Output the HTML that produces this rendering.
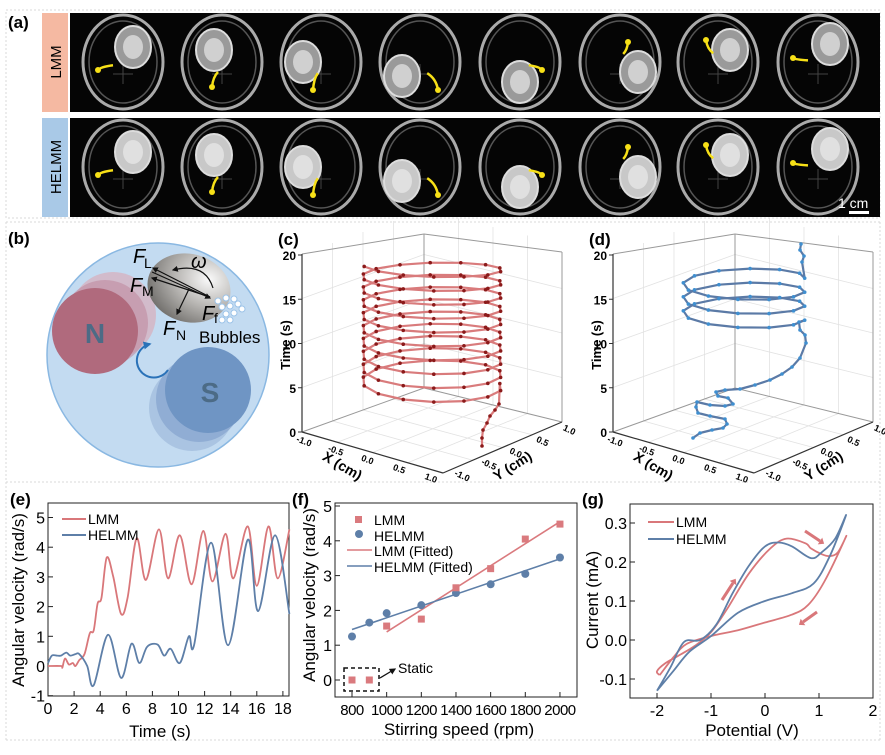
<!DOCTYPE html>
<html><head><meta charset="utf-8"><style>
html,body{margin:0;padding:0;background:#fff}
svg{display:block;font-family:"Liberation Sans",Arial,sans-serif}
</style></head><body>
<svg id="s" width="885" height="755" viewBox="0 0 885 755" xmlns="http://www.w3.org/2000/svg">
<rect width="885" height="755" fill="#fff"/>
<g stroke="#d8d8d8" stroke-dasharray="2,2" fill="none" stroke-width="1">
<rect x="6" y="10" width="874" height="208"/>
<line x1="6" y1="222" x2="880" y2="222"/>
<line x1="6" y1="482" x2="880" y2="482"/>
<line x1="6" y1="740" x2="880" y2="740"/>
<line x1="6" y1="222" x2="6" y2="740"/>
<line x1="880" y1="222" x2="880" y2="740"/>
</g>
<text x="8" y="28" font-size="17" font-weight="bold">(a)</text>
<rect x="42" y="13" width="26" height="99" fill="#f5b9a2"/>
<rect x="42" y="118" width="26" height="99" fill="#a9c9e7"/>
<text transform="translate(61,62) rotate(-90)" text-anchor="middle" font-size="15">LMM</text>
<text transform="translate(61,167) rotate(-90)" text-anchor="middle" font-size="15">HELMM</text>
<rect x="70" y="13" width="810" height="99" fill="#050505"/>
<rect x="70" y="118" width="810" height="99" fill="#050505"/>
<g id="dishes"></g>
<text x="838" y="208" fill="#fff" font-size="14">1 cm</text>
<rect x="849" y="211" width="20" height="3" fill="#fff"/>

<text x="8" y="244" font-size="17" font-weight="bold">(b)</text>
<ellipse cx="158" cy="355" rx="111" ry="112" fill="#c3dbf1" stroke="#8ab8e2" stroke-width="1.5"/>
<circle cx="113" cy="315" r="43" fill="#d6b3c2" opacity="0.8"/>
<circle cx="105" cy="323" r="43" fill="#c08aa0" opacity="0.6"/>
<circle cx="95" cy="331" r="43" fill="#b06a7d"/>
<circle cx="192" cy="408" r="43" fill="#9fbbdc" opacity="0.7"/>
<circle cx="199" cy="399" r="43" fill="#84a4cf" opacity="0.7"/>
<circle cx="208" cy="390" r="43" fill="#6f95c4"/>
<text x="95" y="343" text-anchor="middle" font-size="28" font-weight="bold" fill="#4c6b86">N</text>
<text x="210" y="402" text-anchor="middle" font-size="28" font-weight="bold" fill="#4c6b86">S</text>
<defs><radialGradient id="sp" cx="0.7" cy="0.3" r="0.8"><stop offset="0" stop-color="#fafafa"/><stop offset="0.5" stop-color="#b8b6b3"/><stop offset="1" stop-color="#6f6d6a"/></radialGradient>
<marker id="ah" viewBox="0 0 10 10" refX="8" refY="5" markerWidth="5" markerHeight="5" orient="auto"><path d="M0,0L10,5L0,10z" fill="#111"/></marker>
<marker id="bh" viewBox="0 0 10 10" refX="8" refY="5" markerWidth="4" markerHeight="4" orient="auto"><path d="M0,0L10,5L0,10z" fill="#2a72b8"/></marker></defs>
<ellipse cx="189" cy="288" rx="42" ry="34" transform="rotate(15 189 288)" fill="url(#sp)"/>
<g fill="#fff" stroke="#9cc3e8" stroke-width="1">
<circle cx="218" cy="301" r="3"/><circle cx="226" cy="298" r="3"/><circle cx="234" cy="299" r="3"/><circle cx="222" cy="307" r="3"/><circle cx="230" cy="306" r="3"/><circle cx="238" cy="304" r="3"/><circle cx="226" cy="314" r="3"/><circle cx="234" cy="313" r="3"/><circle cx="242" cy="309" r="3"/><circle cx="222" cy="320" r="3"/><circle cx="230" cy="320" r="3"/>
</g>
<g stroke="#111" stroke-width="1.2" fill="none" marker-end="url(#ah)">
<line x1="210" y1="297" x2="153" y2="268"/>
<line x1="210" y1="297" x2="152" y2="278"/>
<line x1="152" y1="272" x2="210" y2="298"/>
<line x1="189" y1="289" x2="177" y2="314"/>
<path d="M213,288 Q205,262 173,270"/>
</g>
<path d="M168,370 A17,17 0 1 1 150,344" fill="none" stroke="#2a72b8" stroke-width="2" marker-end="url(#bh)"/>
<g font-size="20" font-style="italic"><text x="133" y="263">F</text><text x="130" y="292">F</text><text x="202" y="320">F</text><text x="163" y="335">F</text><text x="191" y="268">ω</text></g>
<g font-size="14"><text x="144" y="268">L</text><text x="142" y="296">M</text><text x="214" y="323">f</text><text x="176" y="340">N</text></g>
<text x="199" y="343" font-size="17">Bubbles</text>

<text x="278" y="245" font-size="17" font-weight="bold">(c)</text>
<text x="589" y="245" font-size="17" font-weight="bold">(d)</text>
<g id="c3d"></g>
<g id="d3d"></g>

<text x="10" y="505" font-size="17" font-weight="bold">(e)</text>
<rect x="48" y="503" width="241" height="193" fill="none" stroke="#222" stroke-width="1"/>
<g id="ee"></g>
<text x="160" y="737" text-anchor="middle" font-size="17">Time (s)</text>
<text transform="translate(24,600) rotate(-90)" text-anchor="middle" font-size="17">Angular velocity (rad/s)</text>
<line x1="62" y1="519" x2="86" y2="519" stroke="#d9777a" stroke-width="2"/><text x="88" y="524" font-size="14">LMM</text>
<line x1="62" y1="535" x2="86" y2="535" stroke="#5e7fa8" stroke-width="2"/><text x="88" y="540" font-size="14">HELMM</text>

<text x="292" y="505" font-size="17" font-weight="bold">(f)</text>
<rect x="335" y="503" width="242" height="194" fill="none" stroke="#222" stroke-width="1"/>
<g id="ff"></g>
<text x="459" y="735" text-anchor="middle" font-size="17">Stirring speed (rpm)</text>
<text transform="translate(315,595) rotate(-90)" text-anchor="middle" font-size="17">Angular velocity (rad/s)</text>
<rect x="355" y="516" width="7" height="7" fill="#da7a7e"/><text x="374" y="525" font-size="14">LMM</text>
<circle cx="359" cy="534" r="4" fill="#5e7fa8"/><text x="374" y="541" font-size="14">HELMM</text>
<line x1="347" y1="550" x2="372" y2="550" stroke="#da7a7e" stroke-width="1.6"/><text x="374" y="556" font-size="14">LMM (Fitted)</text>
<line x1="347" y1="566" x2="372" y2="566" stroke="#5e7fa8" stroke-width="1.6"/><text x="374" y="572" font-size="14">HELMM (Fitted)</text>
<rect x="344" y="668" width="35" height="23" fill="none" stroke="#111" stroke-width="1.5" stroke-dasharray="4,3"/>
<path d="M380,678 L395,669" stroke="#111" stroke-width="1.3" marker-end="url(#ah)"/>
<text x="398" y="673" font-size="14">Static</text>

<text x="582" y="505" font-size="17" font-weight="bold">(g)</text>
<rect x="630" y="504" width="243" height="194" fill="none" stroke="#222" stroke-width="1"/>
<g id="gg"></g>
<text x="752" y="736" text-anchor="middle" font-size="17">Potential (V)</text>
<text transform="translate(598,600) rotate(-90)" text-anchor="middle" font-size="17">Current (mA)</text>
<line x1="648" y1="522" x2="674" y2="522" stroke="#d9777a" stroke-width="2"/><text x="676" y="527" font-size="14">LMM</text>
<line x1="648" y1="539" x2="674" y2="539" stroke="#5e7fa8" stroke-width="2"/><text x="676" y="544" font-size="14">HELMM</text>
</svg>
<script>
var NS="http://www.w3.org/2000/svg";
function el(p,t,a,txt){var e=document.createElementNS(NS,t);for(var k in a)e.setAttribute(k,a[k]);if(txt!==undefined)e.textContent=txt;p.appendChild(e);return e;}
function cr(pts){var d="M"+pts[0][0].toFixed(1)+","+pts[0][1].toFixed(1);for(var i=0;i<pts.length-1;i++){var p0=pts[i-1]||pts[i],p1=pts[i],p2=pts[i+1],p3=pts[i+2]||p2;
var c1=[p1[0]+(p2[0]-p0[0])/6,p1[1]+(p2[1]-p0[1])/6],c2=[p2[0]-(p3[0]-p1[0])/6,p2[1]-(p3[1]-p1[1])/6];
d+="C"+c1[0].toFixed(1)+","+c1[1].toFixed(1)+" "+c2[0].toFixed(1)+","+c2[1].toFixed(1)+" "+p2[0].toFixed(1)+","+p2[1].toFixed(1);}return d;}
var g=document.getElementById("dishes");
var cx=[123,222,321,420,520,620,718,818];
var pos=[[10,-15],[-8,-12],[-18,0],[-18,14],[0,20],[18,10],[12,-12],[12,-18]];
var arr=[[-25,8],[-10,25],[-8,28],[18,28],[22,8],[8,-20],[-12,-22],[-25,-4]];
[62,167].forEach(function(cy,r){cx.forEach(function(x,i){
el(g,"ellipse",{cx:x,cy:cy,rx:40,ry:47,fill:"none",stroke:"#aaa","stroke-width":3});
el(g,"ellipse",{cx:x,cy:cy,rx:34,ry:41,fill:"none",stroke:"#555","stroke-width":1.5});
el(g,"path",{d:"M"+(x-10)+","+(cy+12)+"h20M"+x+","+(cy+2)+"v20",stroke:"#444","stroke-width":1});
var px=x+pos[i][0],py=cy+pos[i][1];
el(g,"ellipse",{cx:px,cy:py,rx:18,ry:21,fill:r?"#c8c8c8":"#9a9a9a",stroke:"#ddd","stroke-width":2});
el(g,"ellipse",{cx:px,cy:py,rx:10,ry:12,fill:r?"#e0e0e0":"#d0d0d0"});
el(g,"path",{d:"M"+(x+arr[i][0]*0.4)+","+(cy+arr[i][1]*0.4)+" Q"+(x+arr[i][0]*0.9)+","+(cy+arr[i][1]*0.6)+" "+(x+arr[i][0])+","+(cy+arr[i][1]),stroke:"#f7e017","stroke-width":2.5,fill:"none"});
el(g,"circle",{cx:x+arr[i][0],cy:cy+arr[i][1],r:3,fill:"#f7e017"});
});});
function frame(gid,dx,col,dotc,build){var G=document.getElementById(gid);
var L=[302+dx,432],F=[443+dx,473],R=[562+dx,422],B=[424+dx,388],H=178;
var gr={stroke:"#e2e2e2","stroke-width":0.8,fill:"none"};
for(var i=1;i<4;i++){var t=i/4;
el(G,"line",Object.assign({x1:L[0],y1:L[1]-H*t,x2:B[0],y2:B[1]-H*t},gr));
el(G,"line",Object.assign({x1:B[0],y1:B[1]-H*t,x2:R[0],y2:R[1]-H*t},gr));
el(G,"line",Object.assign({x1:L[0]+(B[0]-L[0])*t,y1:L[1]+(B[1]-L[1])*t,x2:L[0]+(B[0]-L[0])*t,y2:L[1]+(B[1]-L[1])*t-H},gr));
el(G,"line",Object.assign({x1:B[0]+(R[0]-B[0])*t,y1:B[1]+(R[1]-B[1])*t,x2:B[0]+(R[0]-B[0])*t,y2:B[1]+(R[1]-B[1])*t-H},gr));
el(G,"line",Object.assign({x1:L[0]+(F[0]-L[0])*t,y1:L[1]+(F[1]-L[1])*t,x2:B[0]+(R[0]-B[0])*t,y2:B[1]+(R[1]-B[1])*t},gr));
el(G,"line",Object.assign({x1:L[0]+(B[0]-L[0])*t,y1:L[1]+(B[1]-L[1])*t,x2:F[0]+(R[0]-F[0])*t,y2:F[1]+(R[1]-F[1])*t},gr));}
var ax={stroke:"#999","stroke-width":1};
el(G,"line",Object.assign({x1:B[0],y1:B[1],x2:B[0],y2:B[1]-154},ax));
el(G,"line",Object.assign({x1:R[0],y1:R[1],x2:R[0],y2:R[1]-170},ax));
el(G,"line",Object.assign({x1:L[0],y1:L[1]-H,x2:B[0],y2:B[1]-154},ax));
el(G,"line",Object.assign({x1:B[0],y1:B[1]-154,x2:R[0],y2:R[1]-170},ax));
el(G,"line",Object.assign({x1:L[0],y1:L[1],x2:B[0],y2:B[1]},ax));
el(G,"line",Object.assign({x1:B[0],y1:B[1],x2:R[0],y2:R[1]},ax));
var k={stroke:"#333","stroke-width":1.2};
el(G,"line",Object.assign({x1:L[0],y1:L[1],x2:L[0],y2:L[1]-H},k));
el(G,"line",Object.assign({x1:L[0],y1:L[1],x2:F[0],y2:F[1]},k));
el(G,"line",Object.assign({x1:F[0],y1:F[1],x2:R[0],y2:R[1]},k));
for(var v=0;v<=20;v+=5){var y=432-v*8.85;el(G,"line",{x1:L[0]-4,y1:y,x2:L[0],y2:y,stroke:"#333"});
el(G,"text",{x:L[0]-6,y:y+5,"text-anchor":"end","font-size":12,"font-weight":"bold"},""+v);}
var xl=["-1.0","-0.5","0.0","0.5","1.0"];
for(i=0;i<5;i++){var t=0.05+i*0.225;var px=L[0]+(F[0]-L[0])*t,py=L[1]+(F[1]-L[1])*t;
el(G,"text",{transform:"translate("+(px-6)+","+(py+10)+") rotate(20)","font-size":9,"font-weight":"bold","text-anchor":"middle"},xl[i]);
var qx=F[0]+(R[0]-F[0])*t,qy=F[1]+(R[1]-F[1])*t;
el(G,"text",{transform:"translate("+(qx+12)+","+(qy+8)+") rotate(25)","font-size":9,"font-weight":"bold","text-anchor":"middle"},xl[i]);}
el(G,"text",{transform:"translate("+(L[0]-12)+",345) rotate(-90)","text-anchor":"middle","font-size":13,"font-weight":"bold"},"Time (s)");
el(G,"text",{transform:"translate("+(L[0]+38)+",470) rotate(30)","text-anchor":"middle","font-size":14,"font-weight":"bold"},"X (cm)");
el(G,"text",{transform:"translate("+(F[0]+72)+",470) rotate(-32)","text-anchor":"middle","font-size":14,"font-weight":"bold"},"Y (cm)");
var pts=build();var d="M"+pts.map(function(p){return p[0].toFixed(1)+","+p[1].toFixed(1)}).join("L");
el(G,"path",{d:d,fill:"none",stroke:col,"stroke-width":2.2,"stroke-linejoin":"round"});
pts.forEach(function(p){el(G,"circle",{cx:p[0],cy:p[1],r:1.8,fill:dotc});});}
frame("c3d",0,"#d97b7c","#8b1a1a",function(){var p=[[482,446],[482,438],[483,430],[487,423],[490,416],[495,410],[499,404]];
var N=9.5,steps=Math.round(N*14);for(var i=0;i<=steps;i++){var th=i/14*2*Math.PI,f=i/steps;
var cy=388-124*f,ry=18-8*f;p.push([432+70*Math.cos(th-0.25),cy+ry*Math.sin(th-0.25)]);}return p;});
frame("d3d",311,"#5b7aa6","#3f8fd0",function(){var p=[[693,438],[700,433],[712,430],[723,428],[727,424],[725,419],[710,416],[698,413],[696,407],[697,402],[710,405],[725,406],[733,404],[728,398],[718,396],[716,392],[725,390],[740,389],[755,385],[770,380],[782,374],[792,367],[800,358],[806,343],[805,335],[800,330],[799,322]];
var steps=36;for(var i=0;i<=steps;i++){var th=i/12*2*Math.PI,f=i/steps;p.push([744+61*Math.cos(th+0.1),319-42*f+12*Math.sin(th+0.1)]);}
p.push([802,262],[804,256],[800,250],[801,244]);return p;});
var E=document.getElementById("ee");
function ex(t){return 48+13.05*t}function ey(v){return 666-29.7*v}
for(var t=0;t<=18;t+=2){el(E,"line",{x1:ex(t),y1:696,x2:ex(t),y2:691,stroke:"#222"});el(E,"text",{x:ex(t),y:714,"text-anchor":"middle","font-size":16},""+t);}
for(var v=-1;v<=5;v++){el(E,"line",{x1:48,y1:ey(v),x2:53,y2:ey(v),stroke:"#222"});el(E,"text",{x:45,y:ey(v)+6,"text-anchor":"end","font-size":16},""+v);}
var red=[[0,0],[1,0],[1.1,-0.05],[1.3,0.25],[1.6,0.05],[1.9,0.1],[2.1,0],[2.4,0.2],[2.8,0.4],[3.2,1.1],[3.5,1.2],[3.8,2.1],[4.1,2.3],[4.5,3.65],[5,3],[5.6,1.75],[6.1,2.3],[6.8,4.3],[7.5,2.9],[8.5,4.6],[9.2,2.95],[10.1,4.4],[11,2.75],[11.9,4.55],[12.6,2.85],[13.6,4.45],[14.2,2.95],[15.3,4.7],[16,2.7],[16.9,4.7],[17.6,2.95],[18.5,4.6]];
var blue=[[0,0.1],[0.3,0.35],[0.7,0.35],[1,0.35],[1.4,0.45],[1.7,0.35],[2.1,0.4],[2.4,0.4],[3,0],[3.5,-0.65],[4.6,1.05],[5.6,-0.4],[6.4,0.75],[7,0.1],[7.6,0.65],[8.4,0.72],[8.9,0.35],[9.4,0.58],[10.1,0.1],[10.8,1.0],[11.2,0.72],[12.5,4.15],[13.8,0.7],[15.3,4.25],[16.1,1.85],[17.4,4.4],[18.5,1.75]];
el(E,"path",{d:cr(red.map(function(p){return[ex(p[0]),ey(p[1])]})),fill:"none",stroke:"#d9777a","stroke-width":1.8});
el(E,"path",{d:cr(blue.map(function(p){return[ex(p[0]),ey(p[1])]})),fill:"none",stroke:"#5e7fa8","stroke-width":1.8});
var Fg=document.getElementById("ff");
function fx(r){return 352+(r-800)*0.1733}function fy(v){return 680-34.8*v}
for(var r=800;r<=2000;r+=200){el(Fg,"line",{x1:fx(r),y1:697,x2:fx(r),y2:692,stroke:"#222"});el(Fg,"text",{x:fx(r),y:715,"text-anchor":"middle","font-size":15,"letter-spacing":"-0.5"},""+r);}
for(v=0;v<=5;v++){el(Fg,"line",{x1:335,y1:fy(v),x2:340,y2:fy(v),stroke:"#222"});el(Fg,"text",{x:332,y:fy(v)+6,"text-anchor":"end","font-size":16},""+v);}
el(Fg,"line",{x1:fx(1000),y1:fy(1.38),x2:fx(2000),y2:fy(4.55),stroke:"#da7a7e","stroke-width":1.6});
el(Fg,"line",{x1:fx(800),y1:fy(1.45),x2:fx(2000),y2:fy(3.48),stroke:"#5e7fa8","stroke-width":1.6});
var L1=[[800,0],[900,0],[1000,1.55],[1200,1.75],[1400,2.65],[1600,3.2],[1800,4.05],[2000,4.48]];
var H1=[[800,1.25],[900,1.65],[1000,1.92],[1200,2.15],[1400,2.5],[1600,2.75],[1800,3.05],[2000,3.52]];
H1.forEach(function(p){el(Fg,"circle",{cx:fx(p[0]),cy:fy(p[1]),r:4,fill:"#5e7fa8"})});
L1.forEach(function(p){el(Fg,"rect",{x:fx(p[0])-3.5,y:fy(p[1])-3.5,width:7,height:7,fill:"#da7a7e"})});
var Gg=document.getElementById("gg");
function gx(p){return 765+54*p}function gy(i){return 640-390*i}
for(v=-2;v<=2;v++){el(Gg,"line",{x1:gx(v),y1:698,x2:gx(v),y2:693,stroke:"#222"});el(Gg,"text",{x:gx(v),y:716,"text-anchor":"middle","font-size":16},""+v);}
[-0.1,0,0.1,0.2,0.3].forEach(function(c){el(Gg,"line",{x1:630,y1:gy(c),x2:635,y2:gy(c),stroke:"#222"});el(Gg,"text",{x:627,y:gy(c)+6,"text-anchor":"end","font-size":16},c.toFixed(1));});
var rl=[[-1.95,-0.09],[-1.7,-0.045],[-1.45,-0.01],[-1,0.01],[-0.5,0.025],[0,0.045],[0.5,0.065],[0.8,0.09],[1.1,0.15],[1.5,0.265],[1.35,0.225],[1.2,0.215],[1.05,0.22],[0.85,0.235],[0.75,0.248],[0.4,0.26],[0.1,0.235],[-0.3,0.17],[-0.7,0.08],[-1,0.02],[-1.3,-0.015],[-1.6,-0.04],[-1.85,-0.06],[-2,-0.08],[-1.95,-0.09]];
var bl=[[-2,-0.13],[-1.7,-0.08],[-1.4,-0.03],[-1,0.01],[-0.5,0.07],[0,0.1],[0.5,0.12],[0.9,0.145],[1.2,0.215],[1.5,0.32],[1.3,0.26],[1.05,0.225],[0.85,0.21],[0.5,0.24],[0.25,0.25],[0,0.24],[-0.3,0.19],[-0.6,0.12],[-0.9,0.04],[-1.2,0.0],[-1.5,-0.005],[-1.75,-0.07],[-2,-0.13]];
el(Gg,"path",{d:cr(rl.map(function(p){return[gx(p[0]),gy(p[1])]})),fill:"none",stroke:"#d9777a","stroke-width":1.8});
el(Gg,"path",{d:cr(bl.map(function(p){return[gx(p[0]),gy(p[1])]})),fill:"none",stroke:"#5e7fa8","stroke-width":1.8});
var ar=[[[805,531],[820,541]],[[817,612],[803,622]],[[722,600],[733,583]]];
ar.forEach(function(a){el(Gg,"line",{x1:a[0][0],y1:a[0][1],x2:a[1][0],y2:a[1][1],stroke:"#d9777a","stroke-width":3});
var dx=a[1][0]-a[0][0],dy=a[1][1]-a[0][1],l=Math.hypot(dx,dy),ux=dx/l,uy=dy/l;
el(Gg,"path",{d:"M"+(a[1][0]+ux*5)+","+(a[1][1]+uy*5)+"L"+(a[1][0]-uy*4)+","+(a[1][1]+ux*4)+"L"+(a[1][0]+uy*4)+","+(a[1][1]-ux*4)+"Z",fill:"#d9777a"});});
</script>
</body></html>
